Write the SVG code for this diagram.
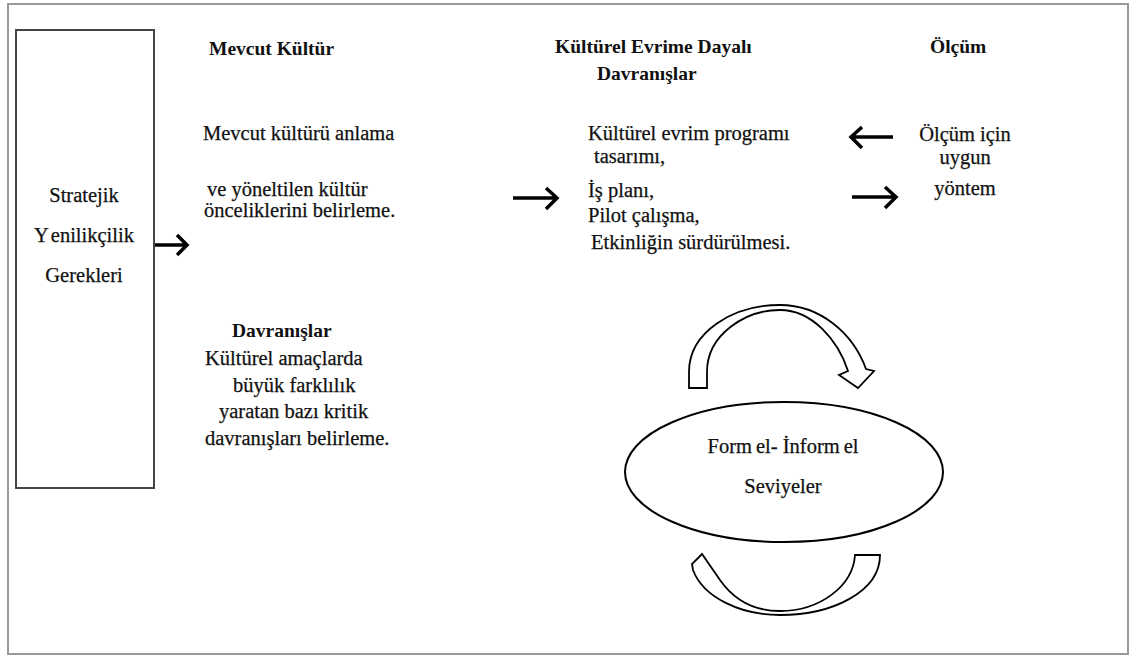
<svg xmlns="http://www.w3.org/2000/svg" width="1133" height="655" viewBox="0 0 1133 655">
<style>
.t{font-family:'Liberation Serif','DejaVu Serif',serif;font-size:20.5px;font-weight:normal;fill:#111;stroke:#111;stroke-width:0.25}
.b{font-family:'Liberation Serif','DejaVu Serif',serif;font-size:19.5px;font-weight:bold;fill:#111}
.arr{fill:none;stroke:#000;stroke-width:3.5;stroke-linecap:butt;stroke-linejoin:miter}
.shape{fill:#fff;stroke:#000;stroke-width:1.8}
</style>
<rect width="1133" height="655" fill="#fff"/>
<rect id="frame" x="8" y="4" width="1120" height="650" fill="none" stroke="#9a9a9a" stroke-width="2"/>

<g id="strategic">
<rect x="16" y="30" width="138" height="458" fill="#fff" stroke="#444" stroke-width="2"/>
<text class="t" text-anchor="middle" x="84" y="202">Stratejik</text>
<text class="t" text-anchor="middle" x="84" y="242">Y<tspan dx="4">enilikçilik</tspan></text>
<text class="t" text-anchor="middle" x="84" y="282">Gerekleri</text>
</g>

<g id="mevcut">
<text class="b" x="209" y="55">Mevcut Kültür</text>
<text class="t" x="203" y="140">Mevcut kültürü anlama</text>
<text class="t" x="207" y="196">ve yöneltilen kültür</text>
<text class="t" x="204" y="217">önceliklerini  belirleme.</text>
</g>

<g id="davranislar">
<text class="b" x="232" y="337">Davranışlar</text>
<text class="t" x="205" y="365">Kültürel  amaçlarda</text>
<text class="t" x="233" y="392">büyük farklılık</text>
<text class="t" x="219" y="418">yaratan bazı kritik</text>
<text class="t" x="205" y="445">davranışları belirleme.</text>
</g>

<g id="evrim">
<text class="b" x="555" y="53">Kültürel Evrime Dayalı</text>
<text class="b" x="597" y="80">Davranışlar</text>
<text class="t" x="588" y="140">Kültürel  evrim programı</text>
<text class="t" x="594" y="163">tasarımı,</text>
<text class="t" x="588" y="197">İş planı,</text>
<text class="t" x="588" y="222">Pilot çalışma,</text>
<text class="t" x="591" y="249">Etkinliğin  sürdürülmesi.</text>
</g>

<g id="olcum">
<text class="b" x="930" y="53">Ölçüm</text>
<text class="t" text-anchor="middle" x="965" y="141">Ölçüm için</text>
<text class="t" text-anchor="middle" x="965" y="164">uygun</text>
<text class="t" text-anchor="middle" x="965" y="195">yöntem</text>
</g>

<g id="levels">
<ellipse cx="784" cy="472" rx="159" ry="70" fill="#fff" stroke="#000" stroke-width="2"/>
<text class="t" text-anchor="middle" x="783" y="453">Form<tspan dx="4">el- İnform</tspan><tspan dx="4">el</tspan></text>
<text class="t" text-anchor="middle" x="783" y="493">Seviyeler</text>
</g>

<g id="connectors">
<path class="arr" d="M155,245 H186 M177,235 L187,245 L177,255"/>
<path class="arr" d="M513,198 H556 M546,188 L557,198 L546,209"/>
<path class="arr" d="M893,137 H851 M862,127 L851,137 L862,148"/>
<path class="arr" d="M852,197 H896 M885,187 L896,197 L885,208"/>
<path class="shape" d="M689,388 L689,372 C689,332 733,305 780,305 C820,305 853,333 866,369 L874,371 L858,388 L839,375 L848,371 C838,340 812,310 780,310 C746,310 707,334 707,372 L707,388 Z"/>
<path class="shape" d="M693,570 C703,597 740,615 780,615 C832,615 880,592 880,555 L855,555 C853,586 820,611 780,611 C754,611 734,600 720,580 L702,554 L692,564 Z"/>
</g>
</svg>
